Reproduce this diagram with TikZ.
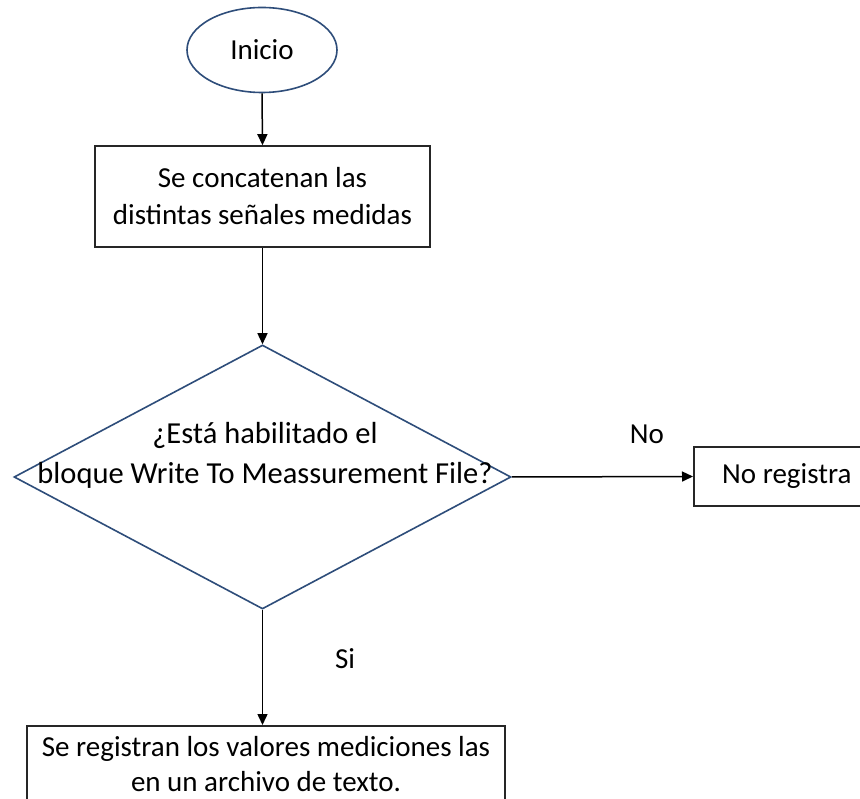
\documentclass[tikz,border=0pt]{standalone}
\usepackage{fontspec}
\setmainfont{Carlito}
\usetikzlibrary{shapes.geometric,arrows.meta}
\definecolor{shapeblue}{HTML}{2E4D7A}
\begin{document}
\begin{tikzpicture}[x=1pt,y=-1pt,
  every node/.style={font=\fontsize{29}{37}\selectfont, inner sep=0pt},
  startshape/.style={ellipse, draw=shapeblue, line width=1.6pt, minimum width=150pt, minimum height=85pt},
  procbox/.style={rectangle, draw=black!85, line width=1.6pt, align=center},
  decision/.style={diamond, draw=shapeblue, line width=1.6pt, minimum width=497pt, minimum height=264pt},
  conn/.style={draw=black, line width=1.5pt, -{Triangle[length=11pt,width=10pt]}}
]
\useasboundingbox (0,0) rectangle (860,799);
\clip (0,0) rectangle (860,799);
\fill[white] (0,0) rectangle (860,799);

\node[startshape] (ini) at (262,50) {Inicio};
\node[procbox, minimum width=335pt, minimum height=101pt] (conc) at (262.5,196.5) {Se concatenan las\\distintas señales medidas};
\node[decision] (dec) at (262.5,477) {};
\node[align=center, font=\fontsize{30.5}{40}\selectfont] (dectext) at (265,455) {¿Está habilitado el\\bloque Write To Meassurement File?};
\node[procbox, minimum width=186pt, minimum height=59pt, anchor=west] (noreg) at (693,476.5) {No registra};
\node[procbox, minimum width=478pt, minimum height=76pt, anchor=north, font=\fontsize{29}{35}\selectfont] (reg) at (266,725) {Se registran los valores mediciones las\\en un archivo de texto.};

\node (nolabel) at (647,434) {No};
\node (silabel) at (345,659) {Si};

\draw[conn] (ini.south) -- (conc.north);
\draw[conn] (conc.south) -- (dec.north);
\draw[conn] (dec.east) -- (noreg.west);
\draw[conn] (dec.south) -- (dec.south |- reg.north);
\end{tikzpicture}
\end{document}
